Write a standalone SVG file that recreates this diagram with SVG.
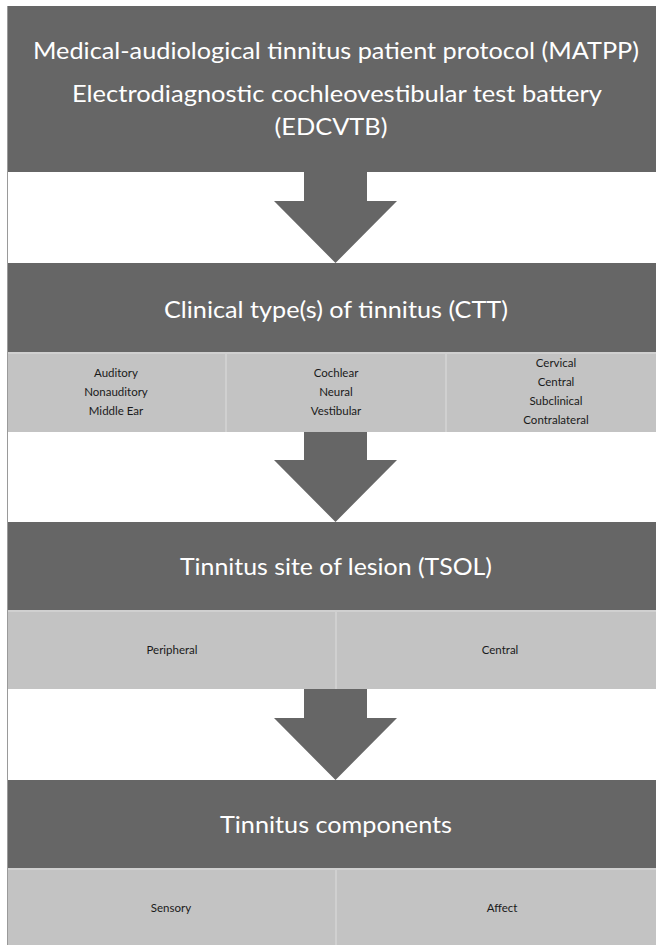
<svg xmlns="http://www.w3.org/2000/svg" width="656" height="945" viewBox="0 0 656 945">
<style>
.dark{fill:#666666}
.band{fill:#c3c3c3}
.edge{fill:#d0d0d0}
.title{font-family:Lato,"Open Sans","Liberation Sans",sans-serif;font-size:24px;fill:#ffffff;text-anchor:middle}
.item{font-family:Lato,"Open Sans","Liberation Sans",sans-serif;font-size:11.5px;fill:#1a1a1a;text-anchor:middle}
.arrow{fill:#666666}
</style>
<rect x="0" y="0" width="656" height="945" fill="#ffffff"/>
<line x1="7.5" y1="6" x2="7.5" y2="945" stroke="#9a9a9a" stroke-width="1"/>

<g id="node-matpp">
<rect class="dark" x="8" y="6" width="648" height="166"/>
<text class="title" x="336" y="59" textLength="606" lengthAdjust="spacingAndGlyphs">Medical-audiological tinnitus patient protocol (MATPP)</text>
<text class="title" x="337" y="102" textLength="530" lengthAdjust="spacingAndGlyphs">Electrodiagnostic cochleovestibular test battery</text>
<text class="title" x="331" y="135" textLength="113" lengthAdjust="spacingAndGlyphs">(EDCVTB)</text>
</g>

<g id="node-ctt">
<rect class="dark" x="8" y="263" width="648" height="89"/>
<text class="title" x="336" y="318" textLength="344" lengthAdjust="spacingAndGlyphs">Clinical type(s) of tinnitus (CTT)</text>
</g>
<g id="node-ctt-band">
<rect class="band" x="8" y="352" width="648" height="80"/>
<rect class="edge" x="8" y="352" width="648" height="2"/>
<rect class="edge" x="225" y="354" width="2" height="78"/>
<rect class="edge" x="445" y="354" width="2" height="78"/>
</g>
<g id="node-ctt-col1">
<text class="item" x="116" y="377">Auditory</text>
<text class="item" x="116" y="396">Nonauditory</text>
<text class="item" x="116" y="415">Middle Ear</text>
</g>
<g id="node-ctt-col2">
<text class="item" x="336" y="377">Cochlear</text>
<text class="item" x="336" y="396">Neural</text>
<text class="item" x="336" y="415">Vestibular</text>
</g>
<g id="node-ctt-col3">
<text class="item" x="556" y="367">Cervical</text>
<text class="item" x="556" y="386">Central</text>
<text class="item" x="556" y="405">Subclinical</text>
<text class="item" x="556" y="424">Contralateral</text>
</g>

<g id="node-tsol">
<rect class="dark" x="8" y="522" width="648" height="88"/>
<text class="title" x="336" y="575" textLength="312" lengthAdjust="spacingAndGlyphs">Tinnitus site of lesion (TSOL)</text>
</g>
<g id="node-tsol-band">
<rect class="band" x="8" y="610" width="648" height="79"/>
<rect class="edge" x="8" y="610" width="648" height="2"/>
<rect class="edge" x="335" y="612" width="2" height="77"/>
<text class="item" x="172" y="654">Peripheral</text>
<text class="item" x="500" y="654">Central</text>
</g>

<g id="node-components">
<rect class="dark" x="8" y="780" width="648" height="88"/>
<text class="title" x="336" y="833" textLength="232" lengthAdjust="spacingAndGlyphs">Tinnitus components</text>
</g>
<g id="node-components-band">
<rect class="band" x="8" y="868" width="648" height="77"/>
<rect class="edge" x="8" y="868" width="648" height="2"/>
<rect class="edge" x="335" y="870" width="2" height="75"/>
<text class="item" x="171" y="912">Sensory</text>
<text class="item" x="502" y="912">Affect</text>
</g>

<g id="connectors">
<polygon class="arrow" points="304,172 367,172 367,201 397,201 335.5,263 274,201 304,201"/>
<polygon class="arrow" points="304,432 367,432 367,460 397,460 335.5,522 274,460 304,460"/>
<polygon class="arrow" points="304,689 367,689 367,718 397,718 335.5,780 274,718 304,718"/>
</g>
</svg>
